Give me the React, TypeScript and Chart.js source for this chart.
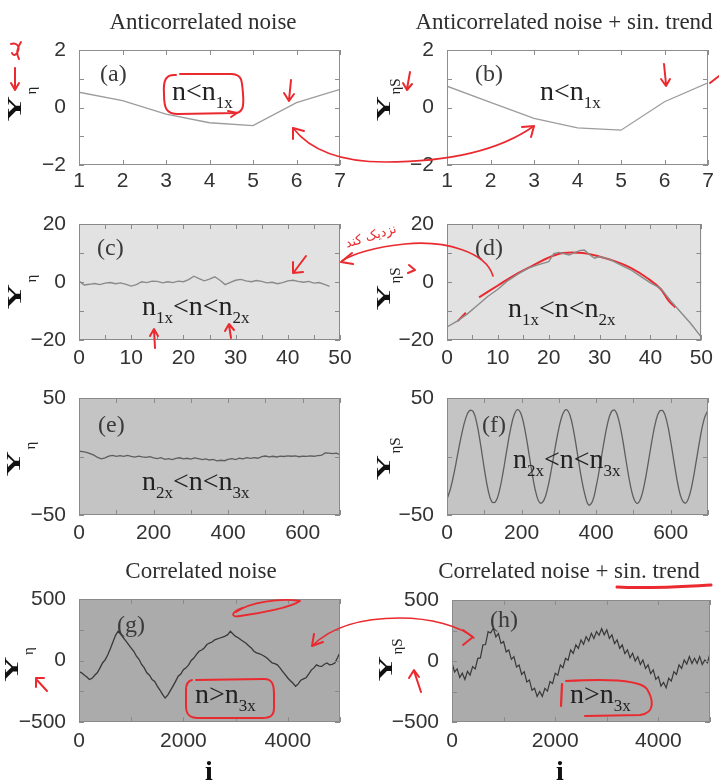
import React, { useEffect, useRef } from "react";
import { Chart, registerables } from "chart.js";
Chart.register(...registerables);

const SERIF = '"Liberation Serif", "DejaVu Serif", serif';
const SANS = '"Liberation Sans", Arial, sans-serif';
const PAGE_W = 719;
const PAGE_H = 782;

// ---------- data ----------
// (a), (b): n < n1x
const abX = [1, 2, 3, 4, 5, 6, 7];
const aY = [0.53, 0.24, -0.23, -0.53, -0.63, 0.17, 0.63];
const bY = [0.74, 0.18, -0.38, -0.71, -0.79, 0.2, 0.86];

// (c): anticorrelated noise, x = 0..48
const cY = [0.3, -1.0, -0.8, -0.5, -0.9, -0.4, -0.2, -0.6, -0.3, -0.8,
  -1.4, -0.9, 0.1, -0.2, 0.3, 0.2, -0.3, 0.1, -0.2, 0.3,
  0.1, 0.8, 2.0, 1.2, 0.4, 1.0, 1.8, 0.6, -0.9, -0.1,
  0.6, 0.9, 0.4, 0.1, 0.5, 0.2, -0.3, -0.1, -0.6, -0.2,
  0.4, 0.6, 0.2, -0.1, 0.2, -0.4, -0.2, -0.8, -1.5];

// (d): anticorrelated noise + sin trend
const dX = [0, 2, 4, 6, 8, 10, 12, 14, 16, 18, 20, 21, 22, 24, 26, 27, 28, 29, 30, 32, 34, 36, 38, 40, 42, 44, 46, 48, 50];
const dY = [-15.5, -13.5, -11.0, -8.0, -5.0, -2.5, 0.5, 2.8, 4.8, 6.0, 7.0, 9.8, 10.2, 9.3, 10.8, 11.0, 9.5, 8.2, 8.8, 7.8, 6.0, 4.3, 2.0, -0.3, -2.2, -6.5, -10.5, -14.5, -19.0];
// hand-drawn red fit over (d)
const dFitX = [6.3, 10, 13.3, 16.5, 19.7, 22.9, 26.7, 29.9, 33.1, 36.3, 39.5, 42, 43.6, 44.9];
const dFitY = [-5.3, -1.2, 2.4, 5.3, 8.2, 10, 10, 8.8, 7.1, 4.7, 1.2, -2.4, -6.5, -8.8];
const dFit2X = [2.1, 3.7];
const dFit2Y = [-13.5, -10.6];

// (e): x = 0..700 step 10
const eY = [4.5, 4.2, 3.6, 2.5, 1.2, -0.8, -2.0, -1.2, 0.3, 1.0,
  0.2, 0.8, 0.1, 1.0, 0.2, -0.5, 0.3, -0.3, -0.8, -0.2,
  -1.2, -1.8, -1.0, -2.4, -1.8, -2.6, -1.6, -1.1, -2.0, -1.5,
  -2.2, -1.2, -1.8, -2.6, -2.0, -3.0, -2.4, -3.8, -3.2, -3.6,
  -2.4, -1.8, -2.6, -1.5, -2.0, -0.9, -1.6, -1.0, -1.5, -0.2,
  0.4, -0.3, 0.2, -0.4, 0.3, 0.0, 0.6, 0.2, 0.5, -0.2,
  0.4, 0.1, 0.6, 0.2, 0.8, 0.9, 3.0, 2.8, 2.4, 2.8, 1.6];

// (f): x = 0..700 step 10
const fY = [-36.5, -26.8, -12.4, 4.2, 20.0, 32.4, 39.1,
  38.6, 28.3, 10.4, -10.4, -28.3, -38.6,
  -38.8, -30.0, -14.2, 4.8, 22.7, 35.4, 40.0,
  35.0, 21.1, 2.0, -17.6, -32.8, -39.8,
  -37.3, -27.0, -10.9, 7.4, 24.1, 35.8, 40.0,
  35.0, 21.1, 2.0, -17.6, -32.8, -41.5,
  -38.5, -25.8, -8.7, 10.5, 27.2, 37.7,
  39.6, 31.9, 16.5, -3.0, -21.7, -35.1, -40.0,
  -35.4, -22.7, -4.8, 14.2, 30.0, 38.8,
  38.8, 29.3, 12.7, -6.9, -25.0, -36.8,
  -39.8, -33.5, -19.5, -1.0, 17.7, 32.4, 39.6];

// (g): x = 0..5000 step 50
const gY = [-90, -100, -118, -135, -155, -145, -120, -100, -62, -20,
  5, 45, 95, 150, 205, 238, 212, 185, 158, 130,
  100, 75, 35, 10, -32, -60, -100, -120, -155, -170,
  -208, -240, -275, -305, -282, -245, -208, -170, -128, -110,
  -75, -60, -35, 0, 20, 50, 75, 85, 102, 130,
  142, 150, 168, 175, 183, 190, 198, 210, 238, 215,
  196, 185, 168, 155, 140, 120, 102, 75, 62, 55,
  47, 35, 20, 0, -20, -25, -35, -60, -88, -115,
  -142, -165, -185, -210, -190, -160, -150, -140, -110, -78,
  -60, -35, -45, -48, -30, -20, -35, -32, -20, 20,
  65];

// (h): x = 0..5000 step 50
const hY = [-15, -90, -65, -135, -100, -151, -85, -115, -46, -65,
  22, 25, 132, 135, 241, 230, 270, 197, 225, 143,
  159, 75, 91, 13, 36, -48, -32, -110, -87, -171,
  -155, -240, -224, -290, -250, -290, -224, -247, -169, -185,
  -101, -117, -32, -55, 22, 7, 91, 62, 132, 103,
  173, 137, 200, 163, 227, 184, 241, 211, 265, 215,
  255, 185, 214, 143, 173, 103, 132, 61, 91, 27,
  63, 0, 36, -28, 9, -61, -32, -103, -73, -150,
  -128, -205, -175, -220, -142, -165, -87, -110, -32, -61,
  9, -25, 36, -21, 22, -21, 36, -28, 9, -15,
  63];

// tick label lists
const abXLabels = [1, 2, 3, 4, 5, 6, 7];
const abYLabels = [-2, 0, 2];
const cdXLabels = [0, 10, 20, 30, 40, 50];
const cdYLabels = [-20, 0, 20];
const efXLabels = [0, 200, 400, 600];
const efYLabels = [-50, 50];
const ghXLabels = [0, 2000, 4000];
const ghYLabels = [-500, 0, 500];

// ---------- panel layout ----------
type Part = { t: string; sub?: boolean };
type Series = { xs?: number[]; step?: number; ys: number[]; color: string; width: number; tension?: number };
type PanelCfg = {
  key: string;
  series: Series[];
  x: [number, number, number];
  y: [number, number, number];
  xLabels: number[];
  yLabels: number[];
  plot: [number, number, number, number];
  bg: string;
  frame: string;
  xPad: number;
  title?: string;
  titlePos?: [number, number];
  tag: string;
  tagPos: [number, number];
  region: Part[];
  regionPos: [number, number];
  sub: string;
  ylab: [number, number];
  right: boolean;
  xlabel?: [number, number];
};

const n1: Part[] = [{ t: "n<n" }, { t: "1x", sub: true }];
const n12: Part[] = [{ t: "n" }, { t: "1x", sub: true }, { t: "<n<n" }, { t: "2x", sub: true }];
const n23: Part[] = [{ t: "n" }, { t: "2x", sub: true }, { t: "<n<n" }, { t: "3x", sub: true }];
const n3: Part[] = [{ t: "n>n" }, { t: "3x", sub: true }];

const RED = "#ea2a2f";

const panels: PanelCfg[] = [
  { key: "a", series: [{ xs: abX, ys: aY, color: "#9c9c9c", width: 1.3 }], x: [1, 7, 1], y: [-2, 2, 1], xLabels: abXLabels, yLabels: abYLabels,
    plot: [79, 50, 340, 165], bg: "#ffffff", frame: "#8e8e8e", xPad: 4, title: "Anticorrelated noise", titlePos: [203, 29],
    tag: "(a)", tagPos: [100, 81], region: n1, regionPos: [172, 100], sub: "\u03b7", ylab: [21, 108.5], right: false },
  { key: "b", series: [{ xs: abX, ys: bY, color: "#9c9c9c", width: 1.3 }], x: [1, 7, 1], y: [-2, 2, 1], xLabels: abXLabels, yLabels: abYLabels,
    plot: [447, 50, 708, 165], bg: "#ffffff", frame: "#8e8e8e", xPad: 4, title: "Anticorrelated noise + sin. trend", titlePos: [564, 29],
    tag: "(b)", tagPos: [475, 81], region: n1, regionPos: [540, 100], sub: "\u03b7S", ylab: [390, 108.5], right: true },
  { key: "c", series: [{ step: 1, ys: cY, color: "#8a8a8a", width: 1.4 }], x: [0, 50, 5], y: [-20, 20, 10], xLabels: cdXLabels, yLabels: cdYLabels,
    plot: [79, 224, 340, 340], bg: "#e2e2e2", frame: "#8a8a8a", xPad: 6,
    tag: "(c)", tagPos: [97, 255], region: n12, regionPos: [142, 315], sub: "\u03b7", ylab: [21, 296.5], right: false },
  { key: "d", series: [
      { xs: dX, ys: dY, color: "#8a8a8a", width: 1.4 },
      { xs: dFitX, ys: dFitY, color: RED, width: 2, tension: 0.4 },
      { xs: dFit2X, ys: dFit2Y, color: RED, width: 2 }],
    x: [0, 50, 5], y: [-20, 20, 10], xLabels: cdXLabels, yLabels: cdYLabels,
    plot: [447, 224, 708, 340], bg: "#e2e2e2", frame: "#8a8a8a", xPad: 6,
    tag: "(d)", tagPos: [475, 255], region: n12, regionPos: [508, 317], sub: "\u03b7S", ylab: [390, 297.5], right: true },
  { key: "e", series: [{ step: 10, ys: eY, color: "#5e5e5e", width: 1.3 }], x: [0, 700, 100], y: [-50, 50, 50], xLabels: efXLabels, yLabels: efYLabels,
    plot: [79, 398, 340, 515], bg: "#c4c4c4", frame: "#8a8a8a", xPad: 6,
    tag: "(e)", tagPos: [98, 432], region: n23, regionPos: [142, 490], sub: "\u03b7", ylab: [20, 463.5], right: false },
  { key: "f", series: [{ step: 10, ys: fY, color: "#5e5e5e", width: 1.3, tension: 0.4 }], x: [0, 700, 100], y: [-50, 50, 50], xLabels: efXLabels, yLabels: efYLabels,
    plot: [447, 398, 708, 515], bg: "#c4c4c4", frame: "#8a8a8a", xPad: 6,
    tag: "(f)", tagPos: [482, 432], region: n23, regionPos: [513, 468], sub: "\u03b7S", ylab: [390, 467.5], right: true },
  { key: "g", series: [{ step: 50, ys: gY, color: "#383838", width: 1.3 }], x: [0, 5000, 1000], y: [-500, 500, 250], xLabels: ghXLabels, yLabels: ghYLabels,
    plot: [79, 599, 340, 722], bg: "#ababab", frame: "#8a8a8a", xPad: 7, title: "Correlated noise", titlePos: [201, 578],
    tag: "(g)", tagPos: [117, 632], region: n3, regionPos: [195, 703], sub: "\u03b7", ylab: [18, 669], right: false, xlabel: [209, 780] },
  { key: "h", series: [{ step: 50, ys: hY, color: "#383838", width: 1.2 }], x: [0, 5000, 1000], y: [-500, 500, 250], xLabels: ghXLabels, yLabels: ghYLabels,
    plot: [452, 600, 710, 722], bg: "#ababab", frame: "#8a8a8a", xPad: 7, title: "Correlated noise + sin. trend", titlePos: [569, 578],
    tag: "(h)", tagPos: [490, 627], region: n3, regionPos: [570, 703], sub: "\u03b7S", ylab: [392, 668.5], right: true, xlabel: [560, 780] },
];

// red hand-drawn annotations (page coordinates)
const RED_MARKS: { d: string; w: number }[] = [
  { d: "M11,44 C16,42 20,46 18,51 C16,56 13,56 12,53 M21,42 C17,48 16,54 19,59", w: 2 },
  { d: "M15,68 L15,89 M11,83 L15,90 L19,83", w: 2 },
  { d: "M176,75 C166,74 163,80 164,94 C164,108 166,114 178,114 L236,113 C243,112 244,106 243,94 C242,80 242,75 232,74 L180,74", w: 2 },
  { d: "M228,111 L237,113 L231,117", w: 2 },
  { d: "M291,80 L289,100 M284,93 L289,101 L294,94", w: 2 },
  { d: "M410,72 L407,89 M403,83 L407,90 L412,84", w: 2 },
  { d: "M664,64 L666,84 M661,79 L666,86 L670,79", w: 2 },
  { d: "M719,76 L710,83", w: 2 },
  { d: "M293,128 C310,150 340,162 385,162 C450,162 500,150 534,126", w: 1.6 },
  { d: "M293,128 L293,139 M293,128 L304,131", w: 2 },
  { d: "M534,126 L522,127 M534,126 L531,137", w: 2 },
  { d: "M155,348 L154,330 M150,336 L154,329 L158,336", w: 2 },
  { d: "M231,338 L229,325 M225,331 L229,324 L234,330", w: 2 },
  { d: "M306,256 L294,272 M293,262 L293,273 L303,272", w: 2 },
  { d: "M493,276 C486,252 445,240 405,244 C375,247 352,254 342,261", w: 1.6 },
  { d: "M352,253 L341,262 L353,264", w: 2 },
  { d: "M409,265 L415,270 L408,273", w: 2 },
  { d: "M236,612 C250,602 280,598 300,601 C292,607 262,613 240,616 C230,618 231,612 242,608", w: 1.8 },
  { d: "M47,691 L36,679 M36,687 L36,678 L44,678", w: 2 },
  { d: "M196,680 L264,679 C272,679 274,684 274,694 L274,708 C274,716 270,718 262,718 L198,718 C189,718 186,714 186,706 L186,690 C186,684 188,681 192,680", w: 2 },
  { d: "M312,646 C330,628 360,618 400,618 C430,618 460,626 474,638", w: 1.5 },
  { d: "M312,646 L314,634 M312,646 L323,642", w: 2 },
  { d: "M463,630 L473,637 L463,645", w: 2 },
  { d: "M421,692 L414,671 M409,678 L414,670 L419,677", w: 2 },
  { d: "M562,684 L561,706", w: 2.2 },
  { d: "M566,681 C600,679 640,679 647,689 C653,699 656,713 640,715 L585,716", w: 2 },
  { d: "M617,587 C650,589 690,586 711,585", w: 3 },
];

function fmt(v: number): string {
  const r = Math.round(v * 1000) / 1000;
  return r < 0 ? "\u2212" + Math.abs(r) : String(r);
}

function drawParts(ctx: CanvasRenderingContext2D, parts: Part[], x: number, y: number) {
  let cx = x;
  for (const p of parts) {
    ctx.font = p.sub ? `17px ${SERIF}` : `28px ${SERIF}`;
    ctx.fillText(p.t, cx, p.sub ? y + 8 : y);
    cx += ctx.measureText(p.t).width;
  }
}

function makePlugin(p: PanelCfg, last: boolean) {
  return {
    id: "deco_" + p.key,
    beforeDraw(chart: any) {
      const { ctx, chartArea: a } = chart;
      ctx.save();
      ctx.fillStyle = p.bg;
      ctx.fillRect(a.left, a.top, a.right - a.left, a.bottom - a.top);
      ctx.restore();
    },
    afterDraw(chart: any) {
      const { ctx, chartArea: a } = chart;
      const xs = chart.scales.x;
      const ys = chart.scales.y;
      ctx.save();
      ctx.strokeStyle = p.frame;
      ctx.lineWidth = 1;
      ctx.strokeRect(Math.round(a.left) + 0.5, Math.round(a.top) + 0.5, Math.round(a.right - a.left) - 1, Math.round(a.bottom - a.top) - 1);
      ctx.beginPath();
      xs.ticks.forEach((t: any) => {
        const px = Math.round(xs.getPixelForValue(t.value)) + 0.5;
        ctx.moveTo(px, a.bottom); ctx.lineTo(px, a.bottom - 5);
        ctx.moveTo(px, a.top); ctx.lineTo(px, a.top + 5);
      });
      ys.ticks.forEach((t: any) => {
        const py = Math.round(ys.getPixelForValue(t.value)) + 0.5;
        ctx.moveTo(a.left, py); ctx.lineTo(a.left + 5, py);
        ctx.moveTo(a.right, py); ctx.lineTo(a.right - 5, py);
      });
      ctx.stroke();

      ctx.textBaseline = "alphabetic";
      if (p.title && p.titlePos) {
        ctx.fillStyle = "#2e2e2e";
        ctx.font = `23px ${SERIF}`;
        ctx.textAlign = "center";
        ctx.fillText(p.title, p.titlePos[0], p.titlePos[1]);
      }
      ctx.textAlign = "left";
      ctx.fillStyle = "#3a3a3a";
      ctx.font = `24px ${SERIF}`;
      ctx.fillText(p.tag, p.tagPos[0], p.tagPos[1]);
      ctx.fillStyle = "#222";
      drawParts(ctx, p.region, p.regionPos[0], p.regionPos[1]);

      // Y axis label
      ctx.save();
      ctx.translate(p.ylab[0], p.ylab[1]);
      ctx.rotate(-Math.PI / 2);
      ctx.save();
      ctx.scale(1.75, 0.92);
      ctx.font = `bold 20px ${SERIF}`;
      ctx.textAlign = "center";
      ctx.fillStyle = "#111";
      ctx.fillText("Y", 0, 0);
      ctx.restore();
      ctx.font = `15px ${SERIF}`;
      ctx.textAlign = "left";
      ctx.fillStyle = "#222";
      ctx.fillText(p.sub, 14, p.right ? 10 : 15);
      ctx.restore();

      if (p.xlabel) {
        ctx.font = `bold 28px ${SERIF}`;
        ctx.textAlign = "center";
        ctx.fillStyle = "#111";
        ctx.fillText("i", p.xlabel[0], p.xlabel[1]);
      }

      if (last) {
        ctx.strokeStyle = RED;
        ctx.lineCap = "round";
        ctx.lineJoin = "round";
        for (const m of RED_MARKS) {
          ctx.lineWidth = m.w;
          ctx.stroke(new Path2D(m.d));
        }
        ctx.save();
        ctx.translate(372, 240);
        ctx.rotate(-0.3);
        ctx.fillStyle = RED;
        ctx.font = `13px "DejaVu Sans", sans-serif`;
        ctx.textAlign = "center";
        ctx.fillText("\u0646\u0632\u062f\u06cc\u06a9 \u06a9\u0646\u062f", 0, 0);
        ctx.restore();
      }
      ctx.restore();
    },
  };
}

function buildChart(canvas: HTMLCanvasElement, p: PanelCfg, last: boolean) {
  const [l, t, r, b] = p.plot;
  const datasets = p.series.map((s) => ({
    data: s.ys.map((y, i) => ({ x: s.xs ? s.xs[i] : i * (s.step || 1), y })),
    borderColor: s.color,
    borderWidth: s.width,
    pointRadius: 0,
    tension: s.tension || 0,
    fill: false,
  }));
  const axisTicks = (step: number, labels: number[], pad: number) => ({
    stepSize: step,
    autoSkip: false,
    maxRotation: 0,
    padding: pad,
    color: "#333",
    font: { family: SANS, size: 21 },
    callback: (v: any) => {
      const n = Number(v);
      return labels.some((q) => Math.abs(q - n) < 1e-6) ? fmt(n) : "";
    },
  });
  return new Chart(canvas, {
    type: "line",
    data: { datasets } as any,
    options: {
      responsive: false,
      animation: false,
      events: [],
      layout: { padding: { left: 0, top: t, right: PAGE_W - r, bottom: 0 } },
      plugins: { legend: { display: false }, tooltip: { enabled: false } },
      scales: {
        x: {
          type: "linear",
          min: p.x[0],
          max: p.x[1],
          afterFit: (s: any) => { s.height = PAGE_H - b; },
          grid: { display: false, drawTicks: false },
          border: { display: false },
          ticks: axisTicks(p.x[2], p.xLabels, p.xPad),
        },
        y: {
          type: "linear",
          min: p.y[0],
          max: p.y[1],
          afterFit: (s: any) => { s.width = l; },
          grid: { display: false, drawTicks: false },
          border: { display: false },
          ticks: axisTicks(p.y[2], p.yLabels, 13),
        },
      },
    } as any,
    plugins: [makePlugin(p, last)],
  });
}

export default function App() {
  const refs = useRef<(HTMLCanvasElement | null)[]>([]);
  useEffect(() => {
    const charts = panels.map((p, i) => buildChart(refs.current[i] as HTMLCanvasElement, p, i === panels.length - 1));
    return () => charts.forEach((c) => c.destroy());
  }, []);
  return (
    <div style={{ position: "absolute", left: 0, top: 0, width: PAGE_W, height: PAGE_H, background: "#fff", overflow: "hidden" }}>
      {panels.map((p, i) => (
        <canvas
          key={p.key}
          ref={(el) => { refs.current[i] = el; }}
          width={PAGE_W}
          height={PAGE_H}
          style={{ position: "absolute", left: 0, top: 0 }}
        />
      ))}
    </div>
  );
}
